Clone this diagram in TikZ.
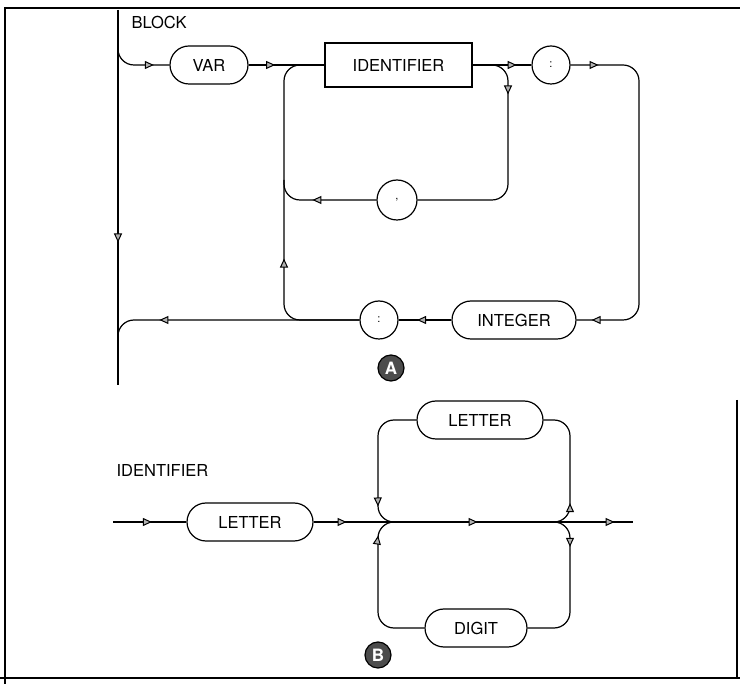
\documentclass[tikz,border=0pt]{standalone}
\usepackage{fontspec}
\setmainfont{TeX Gyre Heros}
\usetikzlibrary{arrows.meta,decorations.markings,positioning}
\tikzset{every picture/.style={line width=1.2pt}}
\tikzset{
  track/.style={line width=1.2pt,rounded corners=16pt},
  flow/.style={postaction={decorate,decoration={markings,
      mark=at position #1 with {\arrow{Triangle[length=9pt,width=8pt,fill=gray!60,line width=1pt]}}}}},
  word/.style={font=\fontsize{16.5}{18}\selectfont},
  pill/.style={word,draw,rounded corners=19pt,minimum height=38pt,inner sep=0pt},
  term/.style={word,draw,minimum height=44pt,inner sep=0pt},
  dot/.style={draw,circle,minimum size=38pt,inner sep=0pt,font=\fontsize{11}{12}\selectfont},
  badge/.style={circle,draw=black,fill=black!70,text=white,minimum size=26pt,inner sep=0pt,
      font=\fontsize{17}{18}\selectfont\bfseries},
  lbl/.style={word,anchor=west,inner sep=0pt}
}

\begin{document}
\begin{tikzpicture}[x=1pt,y=-1pt]
    \useasboundingbox (0,0) rectangle (740,684);

    % frame
    \draw[line width=2.5pt] (740,8) -- (5,8) -- (5,684);
    \draw[line width=2.5pt] (0,678) -- (740,678);
    \draw[line width=1.5pt] (737,400) -- (737,678);

    % ---- A: BLOCK ----
    \node[lbl] (block) at (131,22) {BLOCK};
    \coordinate (vtop) at (118,10);
    \coordinate (vbot) at (118,385);
    \coordinate (split) at (118,47);
    \coordinate (jin) at (284,65);
    \coordinate (jout) at (508,65);
    \coordinate (rtop) at (639,65);
    \coordinate (rbot) at (639,320);
    \coordinate (lbot) at (284,320);
    \coordinate (back) at (118,320);
    \coordinate (cr) at (508,200);
    \coordinate (cl) at (284,200);
    \coordinate (clx) at (284,180);

    \node[pill,minimum width=78pt] (var) at (209,65) {VAR};
    \node[term,minimum width=147pt] (ident) at (398.5,65) {IDENTIFIER};
    \node[dot] (colA) at (551,65) {:};
    \node[dot,minimum size=40pt] (comma) at (397,200) {,};
    \node[pill,minimum width=124pt] (integer) at (514,320) {INTEGER};
    \node[dot] (colB) at (379,320) {:};

    % main line
    \draw[track,flow=0.62] (vtop) -- (vbot);
    \draw[track,flow=47pt] (split) |- (var.west);
    \draw[track,flow=0.35] (var.east) -- (ident.west);

    % repeat loop for the list
    \draw[track,flow=0.75] (ident.east) -- (colA.west);
    \draw[track,flow=58pt] (ident.east) -- (jout) -- (cr) -- (comma.east);
    \draw[track,flow=64pt] (comma.west) -- (cl) -- (clx);

    % type part
    \draw[track,flow=28pt,flow=-15pt] (colA.east) -- (rtop) -- (rbot) -- (integer.east);
    \draw[track,flow=0.65] (integer.west) -- (colB.east);
    \draw[track,flow=130pt] (colB.west) -- (lbot) -- (jin) -- (ident.west);
    \draw[track,flow=200pt] (colB.west) -- (back) -- (vbot);

    \node[badge] (tagA) at (391,368) {A};

    % ---- B: IDENTIFIER ----
    \node[lbl] (idlbl) at (116,470) {IDENTIFIER};
    \coordinate (start) at (113,522);
    \coordinate (stop) at (633,522);
    \coordinate (ml) at (378,522);
    \coordinate (mr) at (570,522);
    \coordinate (mlx) at (402,522);
    \coordinate (mrx) at (546,522);
    \coordinate (ul) at (378,420);
    \coordinate (ur) at (570,420);
    \coordinate (dl) at (378,628);
    \coordinate (dr) at (570,628);

    \node[pill,minimum width=126pt] (let) at (250,522) {LETTER};
    \node[pill,minimum width=126pt] (letup) at (480,420) {LETTER};
    \node[pill,minimum width=102pt] (dig) at (476,628) {DIGIT};

    \draw[track,flow=0.53] (start) -- (let.west);
    \draw[track,flow=33pt,flow=164pt,flow=301pt] (let.east) -- (stop);

    % loops
    \draw[track,flow=118pt] (letup.west) -- (ul) -- (ml) -- (mlx);
    \draw[track,flow=132pt] (dig.west) -- (dl) -- (ml) -- (mlx);
    \draw[track,flow=36pt] (mrx) -- (mr) -- (ur) -- (letup.east);
    \draw[track,flow=42pt] (mrx) -- (mr) -- (dr) -- (dig.east);

    \node[badge] (tagB) at (378,655) {B};
\end{tikzpicture}
\end{document}
